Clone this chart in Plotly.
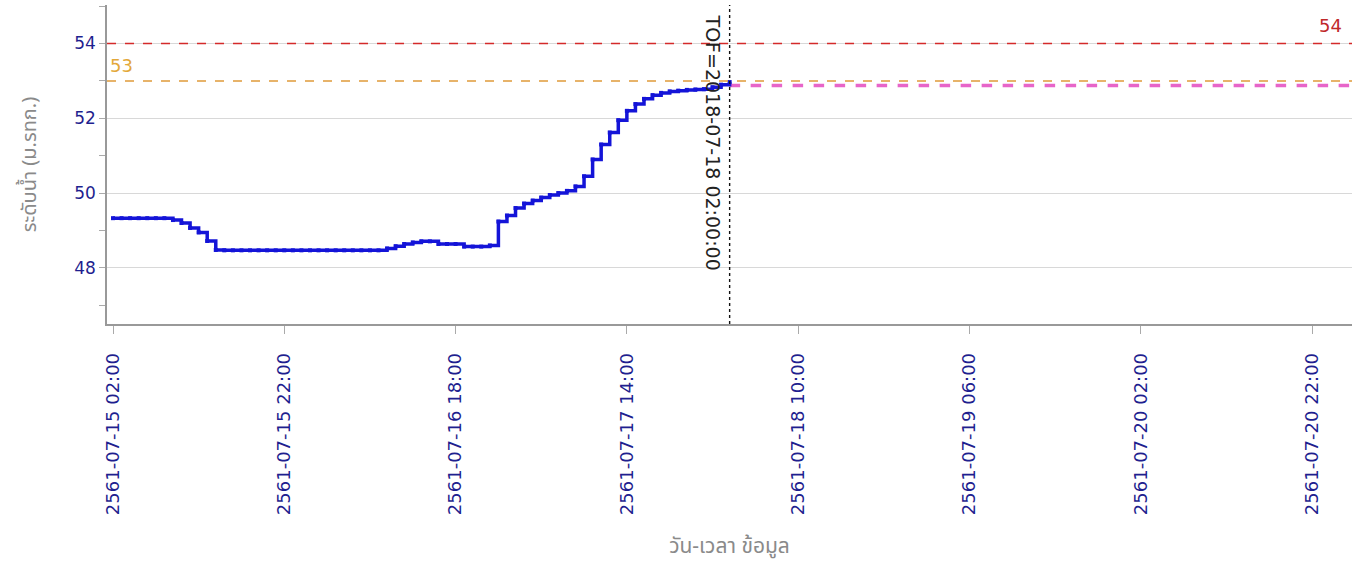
import pandas as pd
import plotly.graph_objects as go

# ---- data -------------------------------------------------------------
start_time = "2018-07-15 02:00"          # 2561 (Thai B.E.) = 2018
water_level = [
    49.33, 49.33, 49.33, 49.33, 49.33, 49.33, 49.33, 49.28, 49.20, 49.07,
    48.95, 48.72, 48.48, 48.47, 48.47, 48.47, 48.47, 48.47, 48.47, 48.47,
    48.47, 48.47, 48.47, 48.47, 48.47, 48.47, 48.47, 48.47, 48.47, 48.47,
    48.47, 48.47, 48.52, 48.58, 48.64, 48.68, 48.71, 48.71, 48.64, 48.64,
    48.64, 48.57, 48.57, 48.57, 48.60, 49.24, 49.40, 49.60, 49.72, 49.80,
    49.88, 49.95, 50.00, 50.06, 50.18, 50.45, 50.90, 51.30, 51.62, 51.95,
    52.20, 52.38, 52.52, 52.62, 52.68, 52.72, 52.74, 52.76, 52.77, 52.78,
    52.83, 52.90, 52.97,
]
forecast_time = ["2018-07-18 02:00", "2018-07-21 03:00"]
forecast_level = [52.88, 52.88]
tof_time = "2018-07-18 02:00"
tof_label = "TOF=2018-07-18 02:00:00"
level_red = 54
level_orange = 53

x_tickvals = ["2018-07-15 02:00", "2018-07-15 22:00", "2018-07-16 18:00",
              "2018-07-17 14:00", "2018-07-18 10:00", "2018-07-19 06:00",
              "2018-07-20 02:00", "2018-07-20 22:00"]
x_ticktext = ["2561-07-15 02:00", "2561-07-15 22:00", "2561-07-16 18:00",
              "2561-07-17 14:00", "2561-07-18 10:00", "2561-07-19 06:00",
              "2561-07-20 02:00", "2561-07-20 22:00"]
x_range = ["2018-07-15 01:18", "2018-07-21 02:40"]
y_range = [46.5, 55.03]

x_title = "วัน-เวลา ข้อมูล"
y_title = "ระดับน้ำ (ม.รทก.)"

times = pd.date_range(start_time, periods=len(water_level), freq="h")

# ---- figure -----------------------------------------------------------
thai_font = "Noto Sans Thai, Loma, Garuda, Tahoma, DejaVu Sans, sans-serif"
tick_font = "DejaVu Sans, Tahoma, sans-serif"
navy = "#1f1f8f"
grey_txt = "#8a8a8a"

fig = go.Figure()

fig.add_hline(y=level_red, line=dict(color="#d42a2a", width=1.5, dash="dash"))
fig.add_hline(y=level_orange, line=dict(color="#e09a3a", width=1.5, dash="dash"))

fig.add_trace(go.Scatter(
    x=forecast_time, y=forecast_level, mode="lines",
    line=dict(color="#e765c9", width=3.5, dash="dash"),
    hoverinfo="skip", showlegend=False))

fig.add_trace(go.Scatter(
    x=times, y=water_level, mode="lines+markers",
    line=dict(color="#1414d8", width=3.5, shape="hv"),
    marker=dict(symbol="square", size=4, color="#1414d8"),
    showlegend=False))

fig.add_vline(x=tof_time, line=dict(color="#111111", width=1.4, dash="dot"))

fig.add_annotation(x=tof_time, xref="x", y=0.57, yref="paper",
                   text=tof_label, textangle=90, showarrow=False,
                   xanchor="center", yanchor="middle", xshift=-17,
                   font=dict(family=tick_font, size=19, color="#222222"))
fig.add_annotation(x=1, xref="paper", y=level_red, yref="y",
                   text=str(level_red), showarrow=False,
                   xanchor="right", yanchor="bottom", xshift=-8, yshift=6,
                   font=dict(family=tick_font, size=18, color="#c0282a"))
fig.add_annotation(x=0, xref="paper", y=level_orange, yref="y",
                   text=str(level_orange), showarrow=False,
                   xanchor="left", yanchor="bottom", xshift=1, yshift=3,
                   font=dict(family=tick_font, size=18, color="#e3a83a"))

fig.update_layout(
    width=1358, height=568,
    margin=dict(l=107, r=6, t=5, b=244),
    paper_bgcolor="white", plot_bgcolor="white",
    showlegend=False,
)

fig.update_xaxes(
    type="date", range=x_range, automargin=False,
    tickmode="array", tickvals=x_tickvals, ticktext=x_ticktext,
    tickangle=-90, ticks="outside", ticklen=8, tickcolor="#aaaaaa",
    ticklabelstandoff=12,
    tickfont=dict(family=tick_font, size=18, color=navy),
    showgrid=False, showline=True, linecolor="#999999", linewidth=1.5,
    zeroline=False,
    title=dict(text=x_title, standoff=24,
               font=dict(family=thai_font, size=21, color=grey_txt)),
)
fig.update_yaxes(
    range=y_range, tick0=0, dtick=2, automargin=False,
    ticks="outside", ticklen=6, tickcolor="#aaaaaa",
    minor=dict(dtick=1, tick0=0, ticks="outside", ticklen=6,
               tickcolor="#aaaaaa", showgrid=False),
    tickfont=dict(family=tick_font, size=17, color=navy),
    showgrid=True, gridcolor="#d8d8d8", gridwidth=1,
    showline=True, linecolor="#999999", linewidth=1.5,
    zeroline=False,
    title=dict(text=y_title, standoff=32,
               font=dict(family=thai_font, size=20, color=grey_txt)),
)

fig.write_html("out.html", config={"displayModeBar": False},
               post_script="document.body.style.margin='0';")
